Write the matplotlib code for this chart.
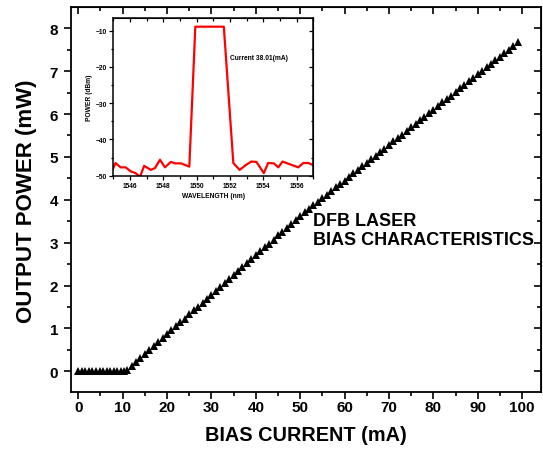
import matplotlib
matplotlib.use("Agg")
import matplotlib.pyplot as plt
from matplotlib.ticker import MultipleLocator

plt.rcParams['font.family'] = ['Liberation Sans', 'DejaVu Sans']
plt.rcParams['font.weight'] = 'bold'

# Main L-I data (mA, mW)
bias_current = [0, 0.8, 1.6, 2.4, 3.2, 4.0, 4.8, 5.6, 6.4, 7.2, 8.0, 8.8, 9.6, 10.4,
                11, 12, 13, 14, 15, 16, 17, 18, 19, 20, 21, 22, 23, 24, 25, 26, 27, 28, 29, 30,
                31, 32, 33, 34, 35, 36, 37, 38, 39, 40, 41, 42, 43, 44, 45, 46, 47, 48, 49, 50,
                51, 52, 53, 54, 55, 56, 57, 58, 59, 60, 61, 62, 63, 64, 65, 66, 67, 68, 69, 70,
                71, 72, 73, 74, 75, 76, 77, 78, 79, 80, 81, 82, 83, 84, 85, 86, 87, 88, 89, 90,
                91, 92, 93, 94, 95, 96, 97, 98, 99]
output_power = [0.00, 0.00, 0.00, 0.00, 0.00, 0.00, 0.00, 0.00, 0.00, 0.00, 0.00, 0.00, 0.00, 0.00,
                0.04, 0.13, 0.22, 0.31, 0.41, 0.50, 0.59, 0.68, 0.77, 0.87, 0.96, 1.05, 1.14, 1.23,
                1.33, 1.42, 1.51, 1.60, 1.69, 1.79, 1.88, 1.97, 2.06, 2.15, 2.25, 2.34, 2.43, 2.52,
                2.61, 2.71, 2.80, 2.89, 2.98, 3.07, 3.17, 3.26, 3.35, 3.44, 3.53, 3.63,
                3.71, 3.79, 3.87, 3.96, 4.04, 4.12, 4.20, 4.29, 4.37, 4.45, 4.53, 4.62, 4.70, 4.78,
                4.86, 4.95, 5.03, 5.11, 5.19, 5.28, 5.36, 5.44, 5.52, 5.61, 5.69, 5.77, 5.85, 5.94,
                6.02, 6.10, 6.18, 6.27, 6.35, 6.43, 6.51, 6.60, 6.68, 6.76, 6.84, 6.93, 7.01, 7.09,
                7.17, 7.26, 7.34, 7.42, 7.50, 7.59, 7.67]

# Inset spectrum (nm, dBm)
wavelength = [1544.93, 1545.13, 1545.44, 1545.74, 1546.04, 1546.34, 1546.60, 1546.85,
              1547.25, 1547.50, 1547.80, 1548.10, 1548.45, 1548.70, 1549.06, 1549.56,
              1549.92, 1551.63, 1552.20, 1552.58, 1552.94, 1553.28, 1553.59, 1554.03,
              1554.29, 1554.63, 1554.90, 1555.15, 1555.56, 1556.10, 1556.40, 1556.70, 1557.00]
power_dbm = [-48.6, -46.5, -47.7, -47.7, -48.8, -49.3, -50.3, -47.3,
             -48.4, -47.9, -45.6, -47.7, -46.2, -46.6, -46.6, -47.5,
             -8.9, -8.9, -46.5, -48.4, -47.1, -46.1, -46.2, -49.3,
             -46.5, -46.6, -47.7, -46.1, -46.8, -47.7, -46.5, -46.5, -47.1]

main_xticks = [0, 10, 20, 30, 40, 50, 60, 70, 80, 90, 100]
main_yticks = [0, 1, 2, 3, 4, 5, 6, 7, 8]
inset_xticks = [1546, 1548, 1550, 1552, 1554, 1556]
inset_yticks = [-10, -20, -30, -40, -50]

fig = plt.figure(figsize=(5.43, 4.52), dpi=100)
ax = fig.add_axes([0.1302, 0.1299, 0.8656, 0.8517])

ax.plot(bias_current, output_power, linestyle='none', marker='^', color='black',
        markersize=5.2, markeredgewidth=0)
ax.set_xlim(-1.7, 104.2)
ax.set_ylim(-0.49, 8.49)
ax.set_xticks(main_xticks)
ax.set_yticks(main_yticks)
ax.xaxis.set_minor_locator(MultipleLocator(5))
ax.yaxis.set_minor_locator(MultipleLocator(0.5))
for s in ax.spines.values():
    s.set_linewidth(1.3)
ax.tick_params(which='both', width=1.2, labelsize=11)
ax.tick_params(which='major', length=5)
ax.tick_params(which='minor', length=3)
ax.tick_params(axis='x', which='both', pad=0.5)
ax.tick_params(axis='y', which='both', pad=4)
ax.tick_params(axis='both', which='both', direction='out', top=False, right=False)
# mirrored inward ticks on top/right
axt = ax.secondary_xaxis('top')
axt.set_xticks(main_xticks)
axt.xaxis.set_minor_locator(MultipleLocator(5))
axt.tick_params(which='both', direction='in', width=1.2, labeltop=False)
axt.tick_params(which='major', length=5)
axt.tick_params(which='minor', length=3)
axr = ax.secondary_yaxis('right')
axr.set_yticks(main_yticks)
axr.yaxis.set_minor_locator(MultipleLocator(0.5))
axr.tick_params(which='both', direction='in', width=1.2, labelright=False)
axr.tick_params(which='major', length=5)
axr.tick_params(which='minor', length=3)

ax.set_xlabel('BIAS CURRENT (mA)', fontsize=14.3, fontweight='bold', labelpad=8)
ax.set_ylabel('OUTPUT POWER (mW)', fontsize=16, fontweight='bold', labelpad=9)

ax.text(53.0, 3.71, 'DFB LASER\nBIAS CHARACTERISTICS', fontsize=13, fontweight='bold',
        va='top', ha='left', linespacing=1.1)

# Inset
ins = fig.add_axes([0.2087, 0.6091, 0.3683, 0.3489])
ins.plot(wavelength, power_dbm, color='#ff0000', linewidth=1.6)
ins.set_xlim(1545, 1557)
ins.set_ylim(-50, -6.5)
ins.set_xticks(inset_xticks)
ins.set_yticks(inset_yticks)
ins.xaxis.set_minor_locator(MultipleLocator(1))
ins.yaxis.set_minor_locator(MultipleLocator(5))
for s in ins.spines.values():
    s.set_linewidth(1.1)
ins.tick_params(which='both', direction='out', width=0.9, labelsize=4.8, pad=1.5)
ins.tick_params(which='major', length=3)
ins.tick_params(which='minor', length=1.8)
inst = ins.secondary_xaxis('top')
inst.set_xticks(inset_xticks)
inst.xaxis.set_minor_locator(MultipleLocator(1))
inst.tick_params(which='both', direction='in', width=0.9, labeltop=False)
inst.tick_params(which='major', length=3)
inst.tick_params(which='minor', length=1.8)
insr = ins.secondary_yaxis('right')
insr.set_yticks(inset_yticks)
insr.yaxis.set_minor_locator(MultipleLocator(5))
insr.tick_params(which='both', direction='in', width=0.9, labelright=False)
insr.tick_params(which='major', length=3)
insr.tick_params(which='minor', length=1.8)
ins.set_xlabel('WAVELENGTH (nm)', fontsize=4.8, fontweight='bold', labelpad=2)
ins.set_ylabel('POWER (dBm)', fontsize=4.8, fontweight='bold', labelpad=2)
ins.text(1552.0, -17.4, 'Current 38.01(mA)', fontsize=4.8, fontweight='bold',
         ha='left', va='center')

fig.savefig('out.png', dpi=100)
